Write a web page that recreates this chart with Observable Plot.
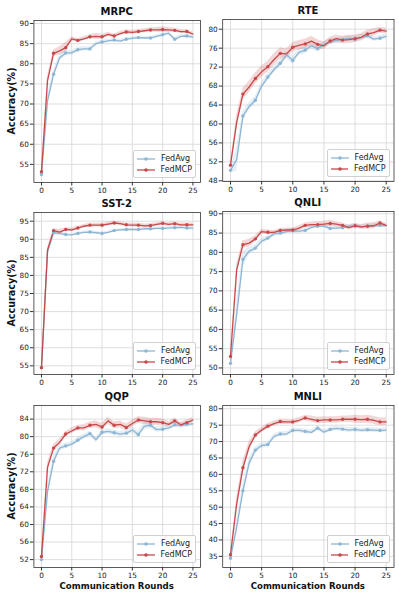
<!DOCTYPE html>
<html><head><meta charset="utf-8">
<script src="https://cdn.jsdelivr.net/npm/d3@7"></script>
<script src="https://cdn.jsdelivr.net/npm/@observablehq/plot@0.6"></script>
<style>
body{margin:0;background:#fff;font-family:"DejaVu Sans",sans-serif;}
#wrap{position:relative;width:399px;height:598px;overflow:hidden;background:#fff;}
.panel{position:absolute;}
.lbl{position:absolute;font-weight:bold;color:#111;white-space:nowrap;transform:translate(-50%,-50%);line-height:1;}
.ylbl{transform:translate(-50%,-50%) rotate(-90deg);}
.legend{position:absolute;background:rgba(255,255,255,0.85);border:0.8px solid #d0d0d0;border-radius:2px;font-size:8px;color:#222;padding:2px 3px 2px 3px;box-sizing:border-box;}
.legend .row{display:flex;align-items:center;height:11.3px;}
.legend svg{margin-right:6px;}
</style></head>
<body><div id="wrap"></div>
<script>
const rounds = [0,1,2,3,4,5,6,7,8,9,10,11,12,13,14,15,16,17,18,19,20,21,22,23,24,25];
const seriesNames = ["FedAvg","FedMCP"];
const seriesColors = ["#8db6d4","#c8494b"];
const xTicks = [0,5,10,15,20,25];

const mrpcAvg = [52.5,70.8,77.4,81.5,82.7,82.7,83.5,83.7,83.7,85.0,85.4,85.7,85.9,85.6,86.1,86.3,86.5,86.4,86.4,86.8,87.2,87.6,86.1,86.8,86.9,86.6];
const mrpcAvgStd = [0.3,1.5,1.0,0.8,0.8,0.6,0.6,0.5,0.5,0.5,0.5,0.4,0.4,0.4,0.4,0.4,0.4,0.4,0.4,0.4,0.4,0.4,0.4,0.4,0.4,0.4];
const mrpcMcp = [53.2,75.8,82.6,83.2,84.0,86.2,85.8,86.2,86.7,86.8,86.7,87.3,86.9,87.5,87.9,87.8,88.0,88.2,88.4,88.4,88.5,88.4,88.3,88.0,88.0,87.4];
const mrpcMcpStd = [0.3,1.2,0.8,1.0,1.2,0.5,0.5,0.5,0.5,0.8,0.6,0.5,0.5,0.5,0.5,0.5,0.5,0.5,0.5,0.6,0.7,0.6,0.5,0.5,0.5,0.5];
const mrpcTicks = [55,60,65,70,75,80,85,90];

const rteAvg = [50.2,52.5,61.7,63.7,65.0,68.0,69.9,71.5,72.8,74.6,73.4,75.1,75.6,76.5,75.9,76.8,77.4,77.6,77.8,78.1,77.9,78.3,78.6,77.9,78.1,78.5];
const rteAvgStd = [0.5,2.5,1.0,0.8,0.8,0.8,0.8,0.8,0.8,0.8,0.8,0.7,0.8,0.7,0.7,0.6,0.6,0.6,0.6,0.6,0.6,0.6,0.5,0.5,0.5,0.5];
const rteMcp = [51.3,60.4,66.3,67.8,69.6,71.0,72.1,73.6,74.9,74.8,76.2,76.6,76.9,77.5,76.8,76.5,77.5,78.0,77.7,77.8,78.0,78.3,79.0,79.3,79.8,79.6];
const rteMcpStd = [0.5,1.5,1.2,1.2,1.2,1.2,1.2,1.2,1.2,1.0,1.0,1.0,1.0,1.0,1.0,0.8,0.8,0.8,0.8,0.8,0.8,0.8,0.8,0.8,0.6,0.6];
const rteTicks = [48,52,56,60,64,68,72,76,80];

const sstAvg = [54.5,86.5,91.8,91.6,91.3,91.2,91.6,91.9,92.0,91.8,91.6,91.9,92.4,92.6,92.7,92.7,92.7,92.9,92.9,93.0,93.0,93.1,93.2,93.3,93.1,93.1];
const sstAvgStd = [0.2,0.6,0.5,0.5,0.5,0.4,0.4,0.4,0.4,0.4,0.4,0.4,0.4,0.4,0.4,0.4,0.4,0.4,0.4,0.4,0.4,0.4,0.4,0.4,0.4,0.4];
const sstMcp = [54.5,87.0,92.4,92.0,92.7,92.6,93.1,93.6,93.9,93.9,93.9,94.2,94.5,94.3,94.0,93.9,93.9,93.7,93.8,94.1,94.4,94.1,94.3,94.0,94.0,94.0];
const sstMcpStd = [0.2,0.6,0.6,0.8,0.5,0.5,0.5,0.5,0.5,0.5,0.5,0.5,0.5,0.5,0.5,0.5,0.5,0.5,0.5,0.5,0.5,0.5,0.5,0.5,0.5,0.5];
const sstTicks = [55,60,65,70,75,80,85,90,95];

const qnliAvg = [51.2,64.0,78.2,80.3,81.1,82.9,83.7,84.8,85.0,85.4,85.6,85.5,85.7,86.5,86.8,86.8,86.2,86.3,86.4,86.8,86.9,86.6,86.8,86.9,87.0,86.9];
const qnliAvgStd = [0.5,3.0,2.0,1.0,0.8,0.8,0.7,0.6,0.6,0.6,0.6,0.5,0.5,0.5,0.5,0.5,0.5,0.5,0.5,0.5,0.5,0.5,0.5,0.5,0.5,0.5];
const qnliMcp = [53.0,75.5,82.0,82.4,83.5,85.4,85.2,85.2,85.7,85.8,85.8,86.3,87.0,87.2,87.2,87.3,87.5,87.3,87.0,86.4,86.9,86.6,86.8,86.9,87.6,87.0];
const qnliMcpStd = [0.5,1.5,1.0,1.0,0.8,0.6,0.6,0.5,0.5,0.5,0.5,0.6,0.6,0.7,0.8,0.8,0.8,0.7,0.6,0.6,0.6,0.6,0.8,0.8,0.6,0.5];
const qnliTicks = [50,55,60,65,70,75,80,85,90];

const qqpAvg = [52.0,67.5,74.4,77.4,77.9,78.3,79.2,80.0,80.7,79.3,81.0,81.2,80.9,80.6,80.8,81.5,80.5,82.4,82.6,81.6,81.7,82.0,82.7,82.5,82.8,82.9];
const qqpAvgStd = [0.3,1.5,1.0,0.7,0.6,0.6,0.6,0.6,0.6,0.6,0.6,0.6,0.6,0.6,0.6,0.8,0.8,0.8,0.8,0.6,0.6,0.6,0.6,0.6,0.6,0.6];
const qqpMcp = [52.7,73.0,77.4,78.7,80.6,81.3,82.0,82.0,82.6,82.8,82.2,83.6,82.6,82.8,82.1,83.0,83.8,83.6,83.4,83.4,83.2,82.8,83.6,82.7,83.2,83.8];
const qqpMcpStd = [0.3,1.0,0.8,0.7,0.6,0.6,0.6,0.7,0.7,0.8,0.8,0.8,0.8,0.8,0.8,0.8,0.8,0.8,0.8,0.8,0.8,0.6,0.6,0.6,0.6,0.6];
const qqpTicks = [52,56,60,64,68,72,76,80,84];

const mnliAvg = [34.4,44.0,55.0,63.5,67.4,68.8,69.1,71.6,72.3,72.3,73.4,73.4,73.1,72.8,74.1,72.9,73.7,74.0,73.8,73.5,73.7,73.4,73.6,73.5,73.4,73.5];
const mnliAvgStd = [0.5,2.0,2.0,1.5,1.0,0.8,0.8,0.8,0.7,0.7,0.7,0.7,0.7,0.7,0.7,0.7,0.7,0.7,0.7,0.7,0.7,0.7,0.7,0.7,0.7,0.7];
const mnliMcp = [35.5,51.0,62.0,68.5,72.0,73.5,74.7,75.5,76.1,76.0,76.0,76.5,77.2,76.8,76.4,76.6,76.6,76.6,76.8,76.8,76.8,76.7,76.8,76.5,76.0,76.0];
const mnliMcpStd = [0.5,2.0,2.0,1.5,1.0,0.8,0.8,0.8,0.8,0.8,0.8,0.8,0.8,1.0,1.0,1.0,1.0,1.0,1.0,1.0,1.2,1.2,1.2,1.2,1.2,1.2];
const mnliTicks = [35,40,45,50,55,60,65,70,75,80];

const panels = [
  {title:"MRPC", avg:mrpcAvg, avgSd:mrpcAvgStd, mcp:mrpcMcp, mcpSd:mrpcMcpStd, ticks:mrpcTicks, dom:[50.5,90.75], col:0, fTop:20, fBot:182, ylab:true, xlab:false},
  {title:"RTE", avg:rteAvg, avgSd:rteAvgStd, mcp:rteMcp, mcpSd:rteMcpStd, ticks:rteTicks, dom:[47.85,82.05], col:1, fTop:19, fBot:181, ylab:false, xlab:false},
  {title:"SST-2", avg:sstAvg, avgSd:sstAvgStd, mcp:sstMcp, mcpSd:sstMcpStd, ticks:sstTicks, dom:[52.6,97.4], col:0, fTop:212, fBot:374, ylab:true, xlab:false},
  {title:"QNLI", avg:qnliAvg, avgSd:qnliAvgStd, mcp:qnliMcp, mcpSd:qnliMcpStd, ticks:qnliTicks, dom:[48.3,90.6], col:1, fTop:211, fBot:374, ylab:false, xlab:false},
  {title:"QQP", avg:qqpAvg, avgSd:qqpAvgStd, mcp:qqpMcp, mcpSd:qqpMcpStd, ticks:qqpTicks, dom:[50.2,87.1], col:0, fTop:405, fBot:567, ylab:true, xlab:true},
  {title:"MNLI", avg:mnliAvg, avgSd:mnliAvgStd, mcp:mnliMcp, mcpSd:mnliMcpStd, ticks:mnliTicks, dom:[31.6,81.0], col:1, fTop:405, fBot:567, ylab:false, xlab:true}
];

const cols = [{left:0, fL:33.4, fR:200}, {left:200, fL:222.2, fR:393.5}];
const wrap = document.getElementById("wrap");

function addLabel(text, x, y, size, cls) {
  const d = document.createElement("div");
  d.className = "lbl" + (cls ? " " + cls : "");
  d.textContent = text;
  d.style.left = x + "px"; d.style.top = y + "px"; d.style.fontSize = size + "px";
  wrap.appendChild(d);
}

panels.forEach(p => {
  const c = cols[p.col];
  const rows = [];
  rounds.forEach((r, i) => {
    rows.push({r, s: seriesNames[0], v: p.avg[i], sd: p.avgSd[i]});
  });
  rounds.forEach((r, i) => {
    rows.push({r, s: seriesNames[1], v: p.mcp[i], sd: p.mcpSd[i]});
  });
  const top = p.fTop - 22;
  const width = 199;
  const mB = 18;
  const height = (p.fBot - top) + mB;
  const grid = {stroke:"#d6d6d6", strokeOpacity:1, strokeWidth:0.8};
  const chart = Plot.plot({
    width, height,
    marginLeft: c.fL - c.left,
    marginRight: width - (c.fR - c.left),
    marginTop: p.fTop - top,
    marginBottom: mB,
    x: {domain:[-1.25, 26.25]},
    y: {domain: p.dom},
    color: {domain: seriesNames, range: seriesColors},
    style: {fontSize:"7.3px", fontFamily:"DejaVu Sans", color:"#222", background:"transparent", overflow:"visible"},
    marks: [
      Plot.gridX(xTicks, grid),
      Plot.gridY(p.ticks, grid),
      Plot.areaY(rows, {x:"r", y1: d => d.v - d.sd, y2: d => d.v + d.sd, z:"s", fill:"s", fillOpacity:0.22}),
      Plot.lineY(rows, {x:"r", y:"v", z:"s", stroke:"s", strokeWidth:1.3}),
      Plot.dot(rows.filter(d => d.r % 2 === 0), {x:"r", y:"v", fill:"s", r:1.7}),
      Plot.frame({stroke:"#333", strokeWidth:0.8}),
      Plot.axisX({ticks: xTicks, tickSize:3.5, tickPadding:1.5, label:null, anchor:"bottom", stroke:"#333"}),
      Plot.axisY({ticks: p.ticks, tickSize:3.5, tickPadding:1.5, label:null, anchor:"left", stroke:"#333"})
    ]
  });
  chart.classList.add("panel");
  chart.style.left = c.left + "px";
  chart.style.top = top + "px";
  wrap.appendChild(chart);

  const cx = (c.fL + c.fR) / 2;
  addLabel(p.title, cx, p.fTop - 8, 10);
  if (p.ylab) addLabel("Accuracy(%)", 12, (p.fTop + p.fBot) / 2, 9.6, "ylbl");
  if (p.xlab) addLabel("Communication Rounds", cx, p.fBot + 18.5, 8.6);

  // legend
  const lw = 63, lh = 28;
  const lg = document.createElement("div");
  lg.className = "legend";
  lg.style.width = lw + "px"; lg.style.height = lh + "px";
  lg.style.left = (c.fR - 4 - lw) + "px";
  lg.style.top = (p.fBot - 4 - lh) + "px";
  seriesNames.forEach((n, i) => {
    const row = document.createElement("div");
    row.className = "row";
    row.innerHTML = `<svg width="18" height="8"><line x1="0" x2="18" y1="4" y2="4" stroke="${seriesColors[i]}" stroke-width="1.3"/><circle cx="9" cy="4" r="1.8" fill="${seriesColors[i]}"/></svg><span>${n}</span>`;
    lg.appendChild(row);
  });
  wrap.appendChild(lg);
});
</script></body></html>
